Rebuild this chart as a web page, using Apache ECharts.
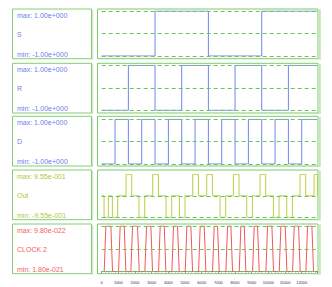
<!DOCTYPE html>
<html><head><meta charset="utf-8">
<script src="https://cdn.jsdelivr.net/npm/echarts@6/dist/echarts.min.js"></script>
<style>html,body{margin:0;padding:0;background:#fff}#c{width:332px;height:287px}</style>
</head><body><div id="c"></div>
<script>
// ---- data ----
const names = ['S', 'R', 'D', 'Out', 'CLOCK 2'];
const maxLabels = ['max: 1.00e+000', 'max: 1.00e+000', 'max: 1.00e+000', 'max: 9.55e-001', 'max: 9.80e-022'];
const minLabels = ['min: -1.00e+000', 'min: -1.00e+000', 'min: -1.00e+000', 'min: -9.55e-001', 'min: 1.80e-021'];
const timeTicks = [0, 1000, 2000, 3000, 4000, 5000, 6000, 7000, 8000, 9000, 10000, 11000, 12000];
const timeEnd = 12940;

const sTimes = [0, 3200, 6400, 9600, 12940];
const sLevels = [-1, 1, -1, 1, 1];
const rTimes = [0, 1600, 3200, 4800, 6400, 8000, 9600, 11200, 12940];
const rLevels = [-1, 1, -1, 1, -1, 1, -1, 1, 1];
const dTimes = [0, 800, 1600, 2400, 3200, 4000, 4800, 5600, 6400, 7200, 8000, 8800, 9600, 10400, 11200, 12000, 12940];
const dLevels = [-1, 1, -1, 1, -1, 1, -1, 1, -1, 1, -1, 1, -1, 1, -1, 1, 1];

const outStart = [140, 640, 1460, 2240, 3060, 3860, 4660, 5460, 6300, 7100, 7900, 8700, 9500, 10300, 11100, 11900, 12740];
const outEnd   = [400, 960, 1800, 2580, 3400, 4200, 5000, 5800, 6640, 7440, 8240, 9040, 9840, 10640, 11440, 12240, 12940];
const outSign  = [-1, -1, 1, -1, 1, -1, -1, 1, 1, -1, 1, -1, 1, -1, -1, 1, 1];
const outAmp = 0.955;

const clockRise = [200, 1060, 1800, 2640, 3460, 4260, 5060, 5860, 6700, 7500, 8300, 9100, 9900, 10700, 11500, 12300];
const clockFall = [600, 1400, 2200, 3000, 3800, 4600, 5400, 6200, 7000, 7800, 8600, 9400, 10260, 11060, 11860, 12660];

const guides = [[-1, 0, 1], [-1, 0, 1], [-1, 0, 1], [0, -0.955], [0, 0.5, 1]];
const yRanges = [[-1, 1], [-1, 1], [-1, 1], [-0.955, 0.955], [0, 1]];

// ---- build series points ----
function stepPts(t, l) { return t.map((x, i) => [x, l[i]]); }
const outPts = [[0, 0]];
outStart.forEach((s, i) => {
  outPts.push([s, 0], [s, outSign[i] * outAmp], [outEnd[i], outSign[i] * outAmp], [outEnd[i], 0]);
});
outPts.push([timeEnd, 0]);
const edge = 50;
const clkPts = [[0, 0]];
clockRise.forEach((r, i) => {
  clkPts.push([r - edge, 0], [r + edge, 1], [clockFall[i] - edge, 1], [clockFall[i] + edge, 0]);
});
clkPts.push([timeEnd, 0]);

const seriesData = [stepPts(sTimes, sLevels), stepPts(rTimes, rLevels), stepPts(dTimes, dLevels), outPts, clkPts];
const steps = ['end', 'end', 'end', false, false];

// ---- layout / style ----
const colors = ['#6f86ee', '#6f86ee', '#6f86ee', '#bccf45', '#f25858'];
const textColors = ['#6b80ee', '#6b80ee', '#6b80ee', '#b2c63a', '#f06262'];
const boxTops = [9, 63.3, 116.3, 170, 224];
const boxH = 49.7;
const plotTops = [11, 65.3, 119.3, 174.3, 226];
const plotH = [45, 45, 44.7, 43, 45.7];
const plotLeft = 101.7, plotW = 215.7;

const grid = [], xAxis = [], yAxis = [], series = [], graphic = [];
for (let i = 0; i < 5; i++) {
  grid.push({ left: plotLeft, top: plotTops[i], width: plotW, height: plotH[i] });
  const last = i === 4;
  xAxis.push({
    type: 'value', gridIndex: i, min: 0, max: timeEnd, interval: 1000,
    show: last, offset: last ? 7.3 : 0,
    axisLine: { show: true, lineStyle: { color: '#555', width: 0.6 } },
    axisTick: { show: true, length: 1.5, lineStyle: { color: '#555', width: 0.6 } },
    minorTick: { show: true, splitNumber: 5, length: 1, lineStyle: { color: '#777', width: 0.5 } },
    splitLine: { show: false },
    axisLabel: { show: last, fontSize: 4, color: '#333', margin: 1.5, fontFamily: 'Liberation Sans',
      formatter: v => timeTicks.indexOf(v) >= 0 ? String(v) : '' }
  });
  yAxis.push({ type: 'value', gridIndex: i, min: yRanges[i][0], max: yRanges[i][1], show: false });
  series.push({
    type: 'line', xAxisIndex: i, yAxisIndex: i, data: [], z: 1, silent: true,
    markLine: { silent: true, symbol: ['none', 'none'], label: { show: false },
      lineStyle: { type: [4, 3], color: '#6cc35c', width: 1 },
      data: guides[i].map(v => ({ yAxis: v })) }
  });
  series.push({
    type: 'line', xAxisIndex: i, yAxisIndex: i, data: seriesData[i], step: steps[i],
    showSymbol: false, symbol: 'none', z: 3, animation: false,
    lineStyle: { color: colors[i], width: 1 }
  });
  // boxes
  graphic.push({ type: 'rect', shape: { x: 12.5, y: boxTops[i], width: 79, height: boxH },
    style: { fill: 'none', stroke: '#86cc76', lineWidth: 1 } });
  graphic.push({ type: 'rect', shape: { x: 92, y: boxTops[i] + 1, width: 1.2, height: boxH },
    style: { fill: '#cdeac6' } });
  graphic.push({ type: 'rect', shape: { x: 97.5, y: boxTops[i], width: 220.5, height: boxH },
    style: { fill: 'none', stroke: '#7fca6e', lineWidth: 1 } });
  graphic.push({ type: 'rect', shape: { x: 318, y: boxTops[i] + 0.5, width: 2.8, height: boxH + 0.5 },
    style: { fill: '#c3e8bb' } });
  const tf = { fontSize: 7, fontFamily: 'Liberation Sans', fill: textColors[i], textVerticalAlign: 'middle', textAlign: 'left' };
  graphic.push({ type: 'text', x: 17, y: boxTops[i] + 6, style: Object.assign({ text: maxLabels[i] }, tf) });
  graphic.push({ type: 'text', x: 17, y: boxTops[i] + 25.5, style: Object.assign({ text: names[i] }, tf) });
  graphic.push({ type: 'text', x: 17, y: boxTops[i] + 45.5, style: Object.assign({ text: minLabels[i] }, tf) });
}

const chart = echarts.init(document.getElementById('c'), null, { renderer: 'svg' });
chart.setOption({ animation: false, backgroundColor: '#fff', grid, xAxis, yAxis, series, graphic });
</script></body></html>
